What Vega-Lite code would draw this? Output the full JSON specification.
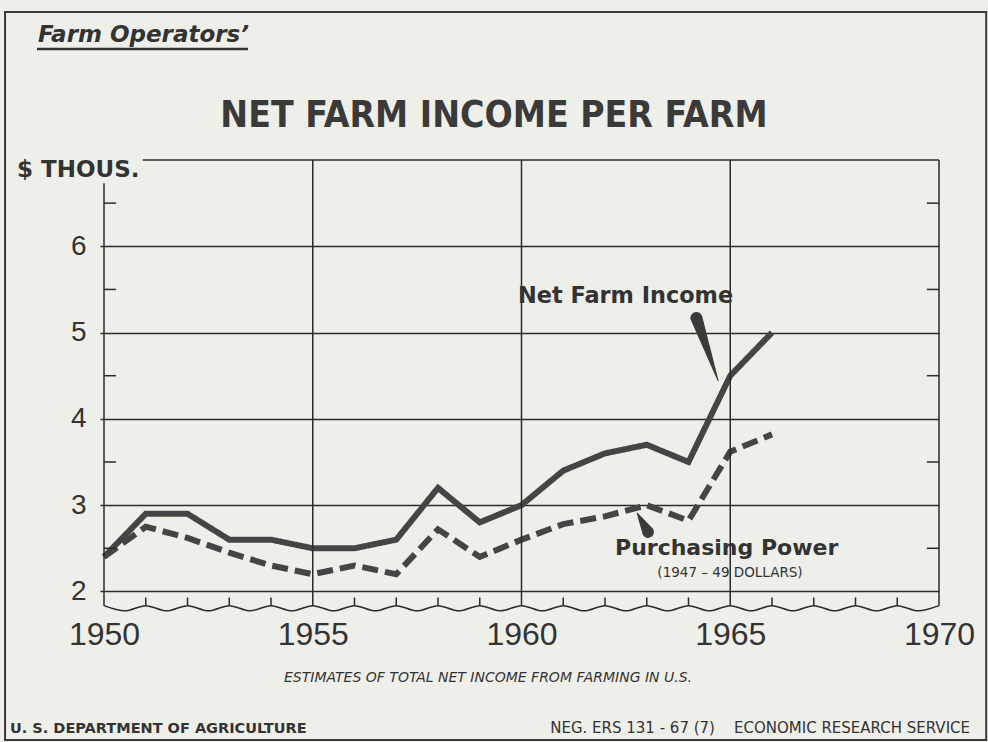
{
  "$schema": "https://vega.github.io/schema/vega-lite/v6.json",
  "width": 835,
  "height": 453,
  "autosize": {"type": "none"},
  "padding": {"left": 104, "top": 160, "right": 49, "bottom": 129},
  "background": "#efefea",
  "config": {"view": {"stroke": null}, "text": {"font": "DejaVu Sans", "color": "#333333"}},
  "resolve": {"axis": {"x": "independent", "y": "independent"}},
  "datasets": {
    "series": [
      {"year": 1950, "series": "Net Farm Income", "value": 2.4},
      {"year": 1951, "series": "Net Farm Income", "value": 2.9},
      {"year": 1952, "series": "Net Farm Income", "value": 2.9},
      {"year": 1953, "series": "Net Farm Income", "value": 2.6},
      {"year": 1954, "series": "Net Farm Income", "value": 2.6},
      {"year": 1955, "series": "Net Farm Income", "value": 2.5},
      {"year": 1956, "series": "Net Farm Income", "value": 2.5},
      {"year": 1957, "series": "Net Farm Income", "value": 2.6},
      {"year": 1958, "series": "Net Farm Income", "value": 3.2},
      {"year": 1959, "series": "Net Farm Income", "value": 2.8},
      {"year": 1960, "series": "Net Farm Income", "value": 3.0},
      {"year": 1961, "series": "Net Farm Income", "value": 3.4},
      {"year": 1962, "series": "Net Farm Income", "value": 3.6},
      {"year": 1963, "series": "Net Farm Income", "value": 3.7},
      {"year": 1964, "series": "Net Farm Income", "value": 3.5},
      {"year": 1965, "series": "Net Farm Income", "value": 4.5},
      {"year": 1966, "series": "Net Farm Income", "value": 5.0},
      {"year": 1950, "series": "Purchasing Power", "value": 2.4},
      {"year": 1951, "series": "Purchasing Power", "value": 2.75},
      {"year": 1952, "series": "Purchasing Power", "value": 2.62},
      {"year": 1953, "series": "Purchasing Power", "value": 2.45},
      {"year": 1954, "series": "Purchasing Power", "value": 2.3},
      {"year": 1955, "series": "Purchasing Power", "value": 2.2},
      {"year": 1956, "series": "Purchasing Power", "value": 2.3},
      {"year": 1957, "series": "Purchasing Power", "value": 2.2},
      {"year": 1958, "series": "Purchasing Power", "value": 2.72},
      {"year": 1959, "series": "Purchasing Power", "value": 2.4},
      {"year": 1960, "series": "Purchasing Power", "value": 2.6},
      {"year": 1961, "series": "Purchasing Power", "value": 2.78},
      {"year": 1962, "series": "Purchasing Power", "value": 2.87},
      {"year": 1963, "series": "Purchasing Power", "value": 3.0},
      {"year": 1964, "series": "Purchasing Power", "value": 2.82},
      {"year": 1965, "series": "Purchasing Power", "value": 3.62},
      {"year": 1966, "series": "Purchasing Power", "value": 3.82}
    ],
    "wave": [
      {"year": 1950, "value": 1.835}, {"year": 1950.5, "value": 1.775},
      {"year": 1951, "value": 1.835}, {"year": 1951.5, "value": 1.775},
      {"year": 1952, "value": 1.835}, {"year": 1952.5, "value": 1.775},
      {"year": 1953, "value": 1.835}, {"year": 1953.5, "value": 1.775},
      {"year": 1954, "value": 1.835}, {"year": 1954.5, "value": 1.775},
      {"year": 1955, "value": 1.835}, {"year": 1955.5, "value": 1.775},
      {"year": 1956, "value": 1.835}, {"year": 1956.5, "value": 1.775},
      {"year": 1957, "value": 1.835}, {"year": 1957.5, "value": 1.775},
      {"year": 1958, "value": 1.835}, {"year": 1958.5, "value": 1.775},
      {"year": 1959, "value": 1.835}, {"year": 1959.5, "value": 1.775},
      {"year": 1960, "value": 1.835}, {"year": 1960.5, "value": 1.775},
      {"year": 1961, "value": 1.835}, {"year": 1961.5, "value": 1.775},
      {"year": 1962, "value": 1.835}, {"year": 1962.5, "value": 1.775},
      {"year": 1963, "value": 1.835}, {"year": 1963.5, "value": 1.775},
      {"year": 1964, "value": 1.835}, {"year": 1964.5, "value": 1.775},
      {"year": 1965, "value": 1.835}, {"year": 1965.5, "value": 1.775},
      {"year": 1966, "value": 1.835}, {"year": 1966.5, "value": 1.775},
      {"year": 1967, "value": 1.835}, {"year": 1967.5, "value": 1.775},
      {"year": 1968, "value": 1.835}, {"year": 1968.5, "value": 1.775},
      {"year": 1969, "value": 1.835}, {"year": 1969.5, "value": 1.775},
      {"year": 1970, "value": 1.835}
    ],
    "yearticks": [
      {"year": 1951}, {"year": 1952}, {"year": 1953}, {"year": 1954},
      {"year": 1956}, {"year": 1957}, {"year": 1958}, {"year": 1959},
      {"year": 1961}, {"year": 1962}, {"year": 1963}, {"year": 1964},
      {"year": 1966}, {"year": 1967}, {"year": 1968}, {"year": 1969}
    ],
    "gridyears": [{"year": 1955}, {"year": 1960}, {"year": 1965}, {"year": 1970}],
    "halfticks": [{"value": 2.5}, {"value": 3.5}, {"value": 4.5}, {"value": 5.5}, {"value": 6.5}],
    "pointers": [
      {"label": "Net Farm Income", "end": "base", "year": 1964.19, "value": 5.17},
      {"label": "Net Farm Income", "end": "tip", "year": 1964.71, "value": 4.44},
      {"label": "Purchasing Power", "end": "base", "year": 1963.03, "value": 2.69},
      {"label": "Purchasing Power", "end": "tip", "year": 1962.77, "value": 2.91}
    ]
  },
  "layer": [
    {
      "data": {"name": "series"},
      "mark": {"type": "line", "strokeWidth": 6, "color": "#454545", "strokeJoin": "miter", "strokeCap": "butt"},
      "encoding": {
        "x": {
          "field": "year", "type": "quantitative",
          "scale": {"domain": [1950, 1970], "nice": false, "zero": false},
          "axis": {"values": [1950, 1955, 1960, 1965, 1970], "format": "d", "grid": false, "domain": false, "ticks": false,
                   "labelFont": "Liberation Sans", "labelFontSize": 32, "labelColor": "#333333", "labelPadding": 6,
                   "labelFlush": false, "labelOverlap": false, "title": null}
        },
        "y": {
          "field": "value", "type": "quantitative",
          "scale": {"domain": [1.75, 7], "nice": false, "zero": false},
          "axis": {"values": [2, 3, 4, 5, 6], "grid": true, "gridColor": "#2b2b2b", "gridWidth": 1.5, "gridOpacity": 1,
                   "domain": false, "tickSize": 4, "tickColor": "#2b2b2b", "tickWidth": 1.5,
                   "labelFont": "Liberation Sans", "labelFontSize": 28, "labelColor": "#333333", "labelPadding": 14,
                   "title": null}
        },
        "detail": {"field": "series", "type": "nominal"},
        "strokeDash": {"field": "series", "type": "nominal",
          "scale": {"domain": ["Net Farm Income", "Purchasing Power"], "range": [[1, 0], [16, 7]]}, "legend": null}
      }
    },
    {
      "data": {"values": [{}]},
      "mark": {"type": "rect", "fill": "#ffffff", "fillOpacity": 0, "stroke": "#3a3a3a", "strokeWidth": 2},
      "encoding": {
        "x": {"datum": 1947.63, "type": "quantitative", "axis": null},
        "x2": {"datum": 1971.13},
        "y": {"datum": 8.715, "type": "quantitative", "axis": null},
        "y2": {"datum": 0.278}
      }
    },
    {
      "data": {"name": "gridyears"},
      "mark": {"type": "rule", "color": "#2b2b2b", "strokeWidth": 1.5},
      "encoding": {
        "x": {"field": "year", "type": "quantitative", "axis": null},
        "y": {"datum": 1.835, "type": "quantitative", "axis": null},
        "y2": {"datum": 7}
      }
    },
    {
      "data": {"values": [{}]},
      "mark": {"type": "rule", "color": "#2b2b2b", "strokeWidth": 1.5},
      "encoding": {
        "x": {"datum": 1950, "type": "quantitative", "axis": null},
        "y": {"datum": 1.835, "type": "quantitative", "axis": null},
        "y2": {"datum": 6.73}
      }
    },
    {
      "data": {"values": [{}]},
      "mark": {"type": "rule", "color": "#2b2b2b", "strokeWidth": 1.5},
      "encoding": {
        "x": {"datum": 1950.93, "type": "quantitative", "axis": null},
        "x2": {"datum": 1970},
        "y": {"datum": 7, "type": "quantitative", "axis": null}
      }
    },
    {
      "data": {"name": "yearticks"},
      "mark": {"type": "rule", "color": "#2b2b2b", "strokeWidth": 1.5},
      "encoding": {
        "x": {"field": "year", "type": "quantitative", "axis": null},
        "y": {"datum": 1.835, "type": "quantitative", "axis": null},
        "y2": {"datum": 1.93}
      }
    },
    {
      "data": {"name": "halfticks"},
      "mark": {"type": "rule", "color": "#2b2b2b", "strokeWidth": 1.5},
      "encoding": {
        "y": {"field": "value", "type": "quantitative", "axis": null},
        "x": {"datum": 1950, "type": "quantitative", "axis": null},
        "x2": {"datum": 1950.29}
      }
    },
    {
      "data": {"name": "halfticks"},
      "mark": {"type": "rule", "color": "#2b2b2b", "strokeWidth": 1.5},
      "encoding": {
        "y": {"field": "value", "type": "quantitative", "axis": null},
        "x": {"datum": 1969.71, "type": "quantitative", "axis": null},
        "x2": {"datum": 1970}
      }
    },
    {
      "data": {"name": "wave"},
      "mark": {"type": "line", "color": "#2b2b2b", "strokeWidth": 1.5, "interpolate": "monotone"},
      "encoding": {
        "x": {"field": "year", "type": "quantitative", "axis": null},
        "y": {"field": "value", "type": "quantitative", "axis": null}
      }
    },
    {
      "data": {"name": "pointers"},
      "mark": {"type": "trail", "color": "#3a3a3a"},
      "encoding": {
        "x": {"field": "year", "type": "quantitative", "axis": null},
        "y": {"field": "value", "type": "quantitative", "axis": null},
        "detail": {"field": "label", "type": "nominal"},
        "size": {"field": "end", "type": "ordinal", "scale": {"domain": ["base", "tip"], "range": [12, 1]}, "legend": null}
      }
    },
    {
      "data": {"values": [{}]},
      "mark": {"type": "text", "text": "NET FARM INCOME PER FARM", "font": "DejaVu Sans Condensed", "fontWeight": "bold", "fontSize": 37, "align": "center", "baseline": "alphabetic", "color": "#3a3a3a"},
      "encoding": {"x": {"datum": 1959.34, "type": "quantitative", "axis": null}, "y": {"datum": 7.382, "type": "quantitative", "axis": null}}
    },
    {
      "data": {"values": [{}]},
      "mark": {"type": "text", "text": "Farm Operators’", "fontWeight": "bold", "fontStyle": "italic", "fontSize": 23, "align": "left", "baseline": "alphabetic"},
      "encoding": {"x": {"datum": 1948.42, "type": "quantitative", "axis": null}, "y": {"datum": 8.3675, "type": "quantitative", "axis": null}}
    },
    {
      "data": {"values": [{}]},
      "mark": {"type": "rule", "color": "#333333", "strokeWidth": 2.5},
      "encoding": {"x": {"datum": 1948.395, "type": "quantitative", "axis": null}, "x2": {"datum": 1953.449}, "y": {"datum": 8.286, "type": "quantitative", "axis": null}}
    },
    {
      "data": {"values": [{}]},
      "mark": {"type": "text", "text": "$ THOUS.", "fontWeight": "bold", "fontSize": 23, "align": "left", "baseline": "alphabetic"},
      "encoding": {"x": {"datum": 1947.916, "type": "quantitative", "axis": null}, "y": {"datum": 6.803, "type": "quantitative", "axis": null}}
    },
    {
      "data": {"values": [{}]},
      "mark": {"type": "text", "text": "Net Farm Income", "fontWeight": "bold", "fontSize": 22.4, "align": "left", "baseline": "alphabetic"},
      "encoding": {"x": {"datum": 1959.916, "type": "quantitative", "axis": null}, "y": {"datum": 5.343, "type": "quantitative", "axis": null}}
    },
    {
      "data": {"values": [{}]},
      "mark": {"type": "text", "text": "Purchasing Power", "fontWeight": "bold", "fontSize": 22, "align": "left", "baseline": "alphabetic"},
      "encoding": {"x": {"datum": 1962.24, "type": "quantitative", "axis": null}, "y": {"datum": 2.422, "type": "quantitative", "axis": null}}
    },
    {
      "data": {"values": [{}]},
      "mark": {"type": "text", "text": "(1947 – 49 DOLLARS)", "fontSize": 13.5, "align": "center", "baseline": "alphabetic"},
      "encoding": {"x": {"datum": 1964.994, "type": "quantitative", "axis": null}, "y": {"datum": 2.167, "type": "quantitative", "axis": null}}
    },
    {
      "data": {"values": [{}]},
      "mark": {"type": "text", "text": "ESTIMATES OF TOTAL NET INCOME FROM FARMING IN U.S.", "fontStyle": "italic", "fontSize": 14, "align": "center", "baseline": "alphabetic"},
      "encoding": {"x": {"datum": 1959.198, "type": "quantitative", "axis": null}, "y": {"datum": 0.95, "type": "quantitative", "axis": null}}
    },
    {
      "data": {"values": [{}]},
      "mark": {"type": "text", "text": "U. S. DEPARTMENT OF AGRICULTURE", "fontWeight": "bold", "fontSize": 14.5, "align": "left", "baseline": "alphabetic"},
      "encoding": {"x": {"datum": 1947.749, "type": "quantitative", "axis": null}, "y": {"datum": 0.3593, "type": "quantitative", "axis": null}}
    },
    {
      "data": {"values": [{}]},
      "mark": {"type": "text", "text": "NEG. ERS 131 - 67 (7)\u00a0\u00a0\u00a0 ECONOMIC RESEARCH SERVICE", "fontSize": 15, "align": "right", "baseline": "alphabetic"},
      "encoding": {"x": {"datum": 1970.743, "type": "quantitative", "axis": null}, "y": {"datum": 0.3593, "type": "quantitative", "axis": null}}
    }
  ]
}
